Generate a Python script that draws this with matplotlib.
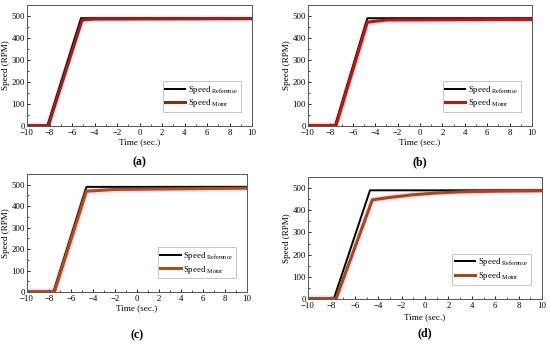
import matplotlib
matplotlib.use("Agg")
from matplotlib import pyplot as plt
from matplotlib.ticker import MultipleLocator

plt.rcParams['font.family'] = ['Liberation Serif', 'DejaVu Serif']
plt.rcParams['mathtext.fontset'] = 'custom'
plt.rcParams['mathtext.rm'] = 'Liberation Serif'

# breakpoints (time in sec., speed in RPM)
ref_t_a = [-10, -8.2, -5.2, 10]
ref_v_a = [0, 0, 490, 490]
mot_t_a = [-10, -8.1, -5.1, -4.0, 10]
mot_v_a = [2, 2, 482, 486, 488]

ref_t_b = [-10, -7.6, -4.7, 10]
ref_v_b = [0, 0, 490, 490]
mot_t_b = [-10, -7.5, -4.7, -3.0, 10]
mot_v_b = [2, 2, 472, 482, 484]

ref_t_c = [-10, -7.6, -4.6, 10]
ref_v_c = [0, 0, 490, 490]
mot_t_c = [-10, -7.5, -4.6, -2.0, 10]
mot_v_c = [2, 2, 470, 478, 484]

ref_t_d = [-10, -7.8, -4.7, 10]
ref_v_d = [0, 0, 490, 490]
mot_t_d = [-10, -7.6, -4.5, -3.0, -1.0, 1.0, 3.0, 6.0, 10]
mot_v_d = [2, 2, 447, 458, 470, 478, 483, 486, 488]

motor_colors = ['#8a2a1a', '#b01e10', '#a8501a', '#a04a1c']
panel_labels = ['(a)', '(b)', '(c)', '(d)']

panels = [
    (ref_t_a, ref_v_a, mot_t_a, mot_v_a),
    (ref_t_b, ref_v_b, mot_t_b, mot_v_b),
    (ref_t_c, ref_v_c, mot_t_c, mot_v_c),
    (ref_t_d, ref_v_d, mot_t_d, mot_v_d),
]

W, H = 550, 347
# axes boxes in pixels: left, top, right, bottom
boxes = [(27, 5, 252, 126), (308, 5, 532, 126), (27, 174, 247, 292), (308, 177, 542, 299)]
# y pixel for xlabel and panel label
label_y = [(142, 162), (142, 162), (308, 335), (317, 333)]

fig = plt.figure(figsize=(W / 100, H / 100), dpi=100)

for i, (rt, rv, mt, mv) in enumerate(panels):
    l, t, r, b = boxes[i]
    ax = fig.add_axes([l / W, 1 - b / H, (r - l) / W, (b - t) / H])
    ax.plot(mt, mv, color='#ff66cc', lw=4.5, alpha=0.25, solid_capstyle='butt')
    ax.plot(rt, rv, color='black', lw=1.4, label=r'Speed $_{\mathregular{Reference}}$')
    ax.plot(mt, mv, color=motor_colors[i], lw=2.2, label=r'Speed $_{\mathregular{Motor}}$')
    ax.set_xlim(-10, 10)
    ax.set_ylim(0, 550)
    ax.set_xticks(range(-10, 11, 2))
    ax.set_yticks(range(0, 501, 100))
    ax.xaxis.set_minor_locator(MultipleLocator(1))
    ax.yaxis.set_minor_locator(MultipleLocator(50))
    ax.tick_params(direction='in', which='major', length=2.5, width=0.6, labelsize=6.3)
    ax.tick_params(axis='x', pad=2.5)
    ax.tick_params(axis='y', pad=1.5)
    ax.tick_params(direction='in', which='minor', length=1.3, width=0.5)
    for s in ax.spines.values():
        s.set_color('#555555')
        s.set_linewidth(0.7)
    ax.set_ylabel('Speed (RPM)', fontsize=6.6, labelpad=1)
    fig.text((l + r) / 2 / W, 1 - label_y[i][0] / H, 'Time (sec.)', fontsize=6.6,
             ha='center', va='center')
    fig.text((l + r) / 2 / W, 1 - label_y[i][1] / H, panel_labels[i], fontsize=8.5,
             fontweight='bold', ha='center', va='center')
    leg = ax.legend(loc='lower right', bbox_to_anchor=(0.97, 0.08), fontsize=6.3,
                    frameon=True, fancybox=False, edgecolor='#999999',
                    handlelength=2.3, borderpad=0.3, labelspacing=0.2, handletextpad=0.3)
    leg.get_frame().set_linewidth(0.5)

fig.savefig('out.png', dpi=100)
